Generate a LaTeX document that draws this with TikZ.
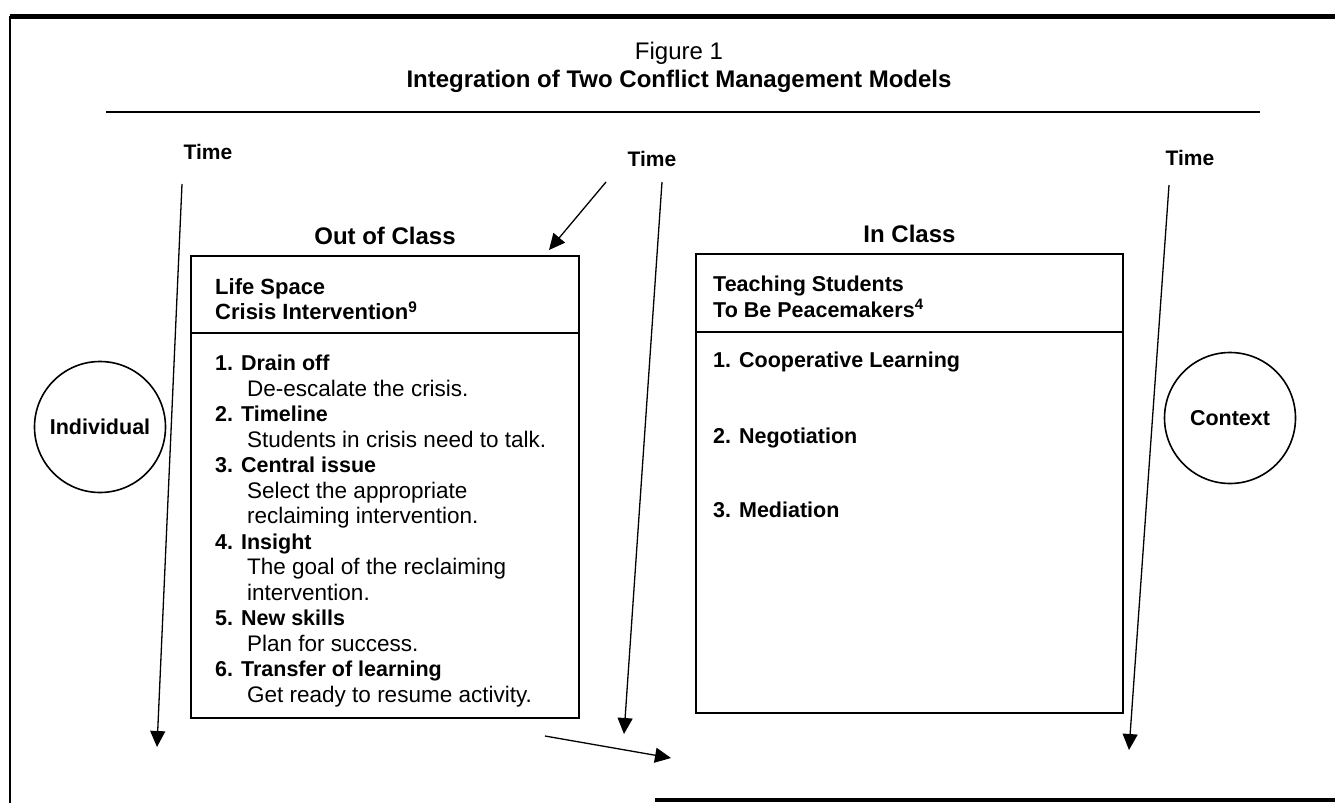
\documentclass[tikz,border=0pt]{standalone}
\usepackage{fontspec}
\setmainfont{Liberation Sans}
\usetikzlibrary{arrows.meta,positioning}
\tikzset{panel/.style ={
        rectangle,
        draw=black,
        line width=1.6pt,
        minimum width=388pt,
        minimum height=462pt,
        inner sep=0pt
    },
    ring/.style={
        circle,
        draw=black,
        line width=1.6pt,
        minimum size=131pt,
        inner sep=0pt,
        font=\fontsize{21.5}{25}\selectfont\bfseries
    },
    txt/.style ={
        inner sep=0pt,
        align=left,
        anchor=north west,
        font=\fontsize{22.5}{25.5}\selectfont
    },
    hd/.style ={
        inner sep=0pt,
        font=\fontsize{24}{28}\selectfont\bfseries
    },
    lbl/.style ={
        inner sep=0pt,
        font=\fontsize{21}{25}\selectfont\bfseries
    }}
\newcommand{\stepname}[1]{{\fontsize{21.5}{25.5}\selectfont\bfseries #1}}

\begin{document}
\begin{tikzpicture}
    [
    x=1pt, y=-1pt,
    a/.style={
        -{Triangle[length=16pt,width=15pt]},
        line width=1.3pt
    },
    sep/.style={
        line width=1.6pt
    },
    bold/.style={
        font=\fontsize{21.5}{25.5}\selectfont\bfseries
    }
    ]
    \useasboundingbox (0,0) rectangle (1335,803);
    % frame
    \draw[line width=5pt] (10,16) -- (1335,16);
    \draw[line width=1.8pt] (10,16) -- (10,803);
    \draw[line width=4pt] (655,800) -- (1335,800);

    % heading
    \node (fig)[inner sep=0pt, font=\fontsize{24}{28}\selectfont] at (679,53) {Figure 1};
    \node (title)[hd] at (679,81) {Integration of Two Conflict Management Models};
    \draw[line width=2.2pt] (106,112) -- (1260,112);

    % the two models
    \node (outbox)[panel] at (385,487) {};
    \node (inbox)[panel, minimum width=427pt, minimum height=459pt] at (909.5,483.5) {};
    \node (outhd)[hd, above=10pt of outbox] {Out of Class};
    \node (inhd)[hd, above=10pt of inbox] {In Class};
    \draw[sep] (outbox.west |- 0,333) -- (outbox.east |- 0,333);
    \draw[sep] (inbox.west |- 0,332) -- (inbox.east |- 0,332);

    \node (lsci)[txt, font=\fontsize{22}{25.5}\selectfont\bfseries] at (215,278)
        {Life Space\\Crisis Intervention\textsuperscript{9}};
    \node (steps)[txt] at (215,355) {%
        \stepname{1. Drain off}\\
        \hspace*{32pt}De-escalate the crisis.\\
        \stepname{2. Timeline}\\
        \hspace*{32pt}Students in crisis need to talk.\\
        \stepname{3. Central issue}\\
        \hspace*{32pt}Select the appropriate\\
        \hspace*{32pt}reclaiming intervention.\\
        \stepname{4. Insight}\\
        \hspace*{32pt}The goal of the reclaiming\\
        \hspace*{32pt}intervention.\\
        \stepname{5. New skills}\\
        \hspace*{32pt}Plan for success.\\
        \stepname{6. Transfer of learning}\\
        \hspace*{32pt}Get ready to resume activity.};

    \node (tsp)[txt, bold] at (713,276)
        {Teaching Students\\To Be Peacemakers\textsuperscript{4}};
    \node (coop)[txt, bold] at (713,352) {1. Cooperative Learning};
    \node (nego)[txt, bold] at (713,428) {2. Negotiation};
    \node (medi)[txt, bold] at (713,502) {3. Mediation};

    % individual and context
    \node (indiv)[ring] at (100,427) {Individual};
    \node (context)[ring] at (1230,418) {Context};

    % time arrows
    \node (time1)[lbl] at (208,152) {Time};
    \node (time2)[lbl] at (652,159) {Time};
    \node (time3)[lbl] at (1190,158) {Time};

    \coordinate (t1a) at (182,184);
    \coordinate (t1b) at (157,747);
    \coordinate (t2a) at (606,182);
    \coordinate (t2b) at (549,250);
    \coordinate (t3a) at (662,182);
    \coordinate (t3b) at (624,734);
    \coordinate (t4a) at (1169,185);
    \coordinate (t4b) at (1129,750);
    \coordinate (flowa) at (545,736);
    \coordinate (flowb) at (671,758);

    \draw[a] (t1a) -- (t1b);
    \draw[a] (t2a) -- (t2b);
    \draw[a] (t3a) -- (t3b);
    \draw[a] (t4a) -- (t4b);
    \draw[a] (flowa) -- (flowb);

\end{tikzpicture}
\end{document}
